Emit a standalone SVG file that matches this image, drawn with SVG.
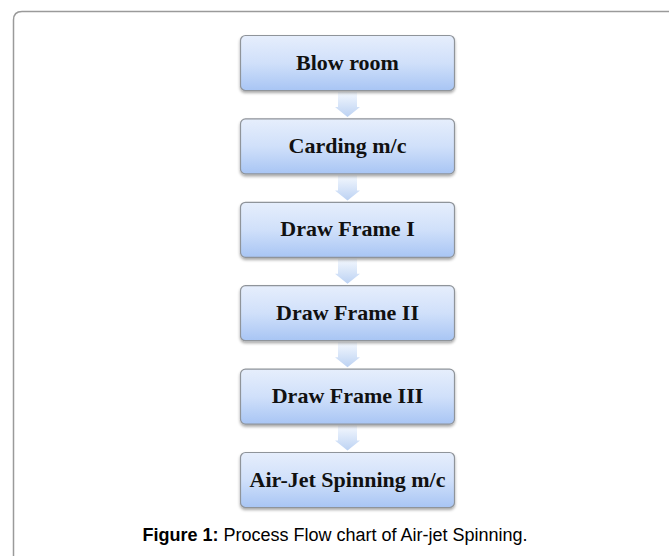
<svg xmlns="http://www.w3.org/2000/svg" width="669" height="556" viewBox="0 0 669 556">
<defs>
<linearGradient id="boxg" x1="0" y1="0" x2="0" y2="1">
<stop offset="0" stop-color="#e6eefc"/>
<stop offset="0.5" stop-color="#d0e0fa"/>
<stop offset="1" stop-color="#a8c5f4"/>
</linearGradient>
<linearGradient id="arrg" x1="0" y1="0" x2="0" y2="1">
<stop offset="0" stop-color="#f4f8fe"/>
<stop offset="1" stop-color="#bcd2f3"/>
</linearGradient>
<filter id="sh" x="-10%" y="-10%" width="120%" height="140%">
<feGaussianBlur in="SourceAlpha" stdDeviation="1.5"/>
<feOffset dx="0" dy="2"/>
<feComponentTransfer><feFuncA type="linear" slope="0.35"/></feComponentTransfer>
<feMerge><feMergeNode/><feMergeNode in="SourceGraphic"/></feMerge>
</filter>
<style>
.box{fill:url(#boxg);stroke:#8f949a;stroke-width:1.2;filter:url(#sh)}
.lbl{font-family:"Liberation Serif","Times New Roman",serif;font-weight:bold;font-size:22px;fill:#111;text-anchor:middle}
.arr{fill:url(#arrg);stroke:none}
.cap{font-family:"Liberation Sans",Arial,sans-serif;font-size:18px;fill:#000;text-anchor:middle}
</style>
</defs>
<rect width="669" height="556" fill="#fff"/>
<path d="M13.5,556 V20 Q13.5,11.5 22,11.5 H669" fill="none" stroke="#9a9a9a" stroke-width="1.5"/>
<g id="connectors">
<path class="arr" d="M338,92 H357 V107 H360 L347.5,117 L335,107 H338 Z"/>
<path class="arr" d="M338,175.4 H357 V190.4 H360 L347.5,200.4 L335,190.4 H338 Z"/>
<path class="arr" d="M338,258.8 H357 V273.8 H360 L347.5,283.8 L335,273.8 H338 Z"/>
<path class="arr" d="M338,342.2 H357 V357.2 H360 L347.5,367.2 L335,357.2 H338 Z"/>
<path class="arr" d="M338,425.6 H357 V440.6 H360 L347.5,450.6 L335,440.6 H338 Z"/>
</g>
<g id="n1"><rect class="box" x="240.5" y="35.5" width="214" height="55" rx="5"/><text class="lbl" x="347.5" y="69.5">Blow room</text></g>
<g id="n2"><rect class="box" x="240.5" y="118.9" width="214" height="55" rx="5"/><text class="lbl" x="347.5" y="152.9">Carding m/c</text></g>
<g id="n3"><rect class="box" x="240.5" y="202.3" width="214" height="55" rx="5"/><text class="lbl" x="347.5" y="236.3">Draw Frame I</text></g>
<g id="n4"><rect class="box" x="240.5" y="285.7" width="214" height="55" rx="5"/><text class="lbl" x="347.5" y="319.7">Draw Frame II</text></g>
<g id="n5"><rect class="box" x="240.5" y="369.1" width="214" height="55" rx="5"/><text class="lbl" x="347.5" y="403.1">Draw Frame III</text></g>
<g id="n6"><rect class="box" x="240.5" y="452.5" width="214" height="55" rx="5"/><text class="lbl" x="347.5" y="486.5">Air-Jet Spinning m/c</text></g>
<text class="cap" x="335" y="541"><tspan font-weight="bold">Figure 1:</tspan> Process Flow chart of Air-jet Spinning.</text>
</svg>
